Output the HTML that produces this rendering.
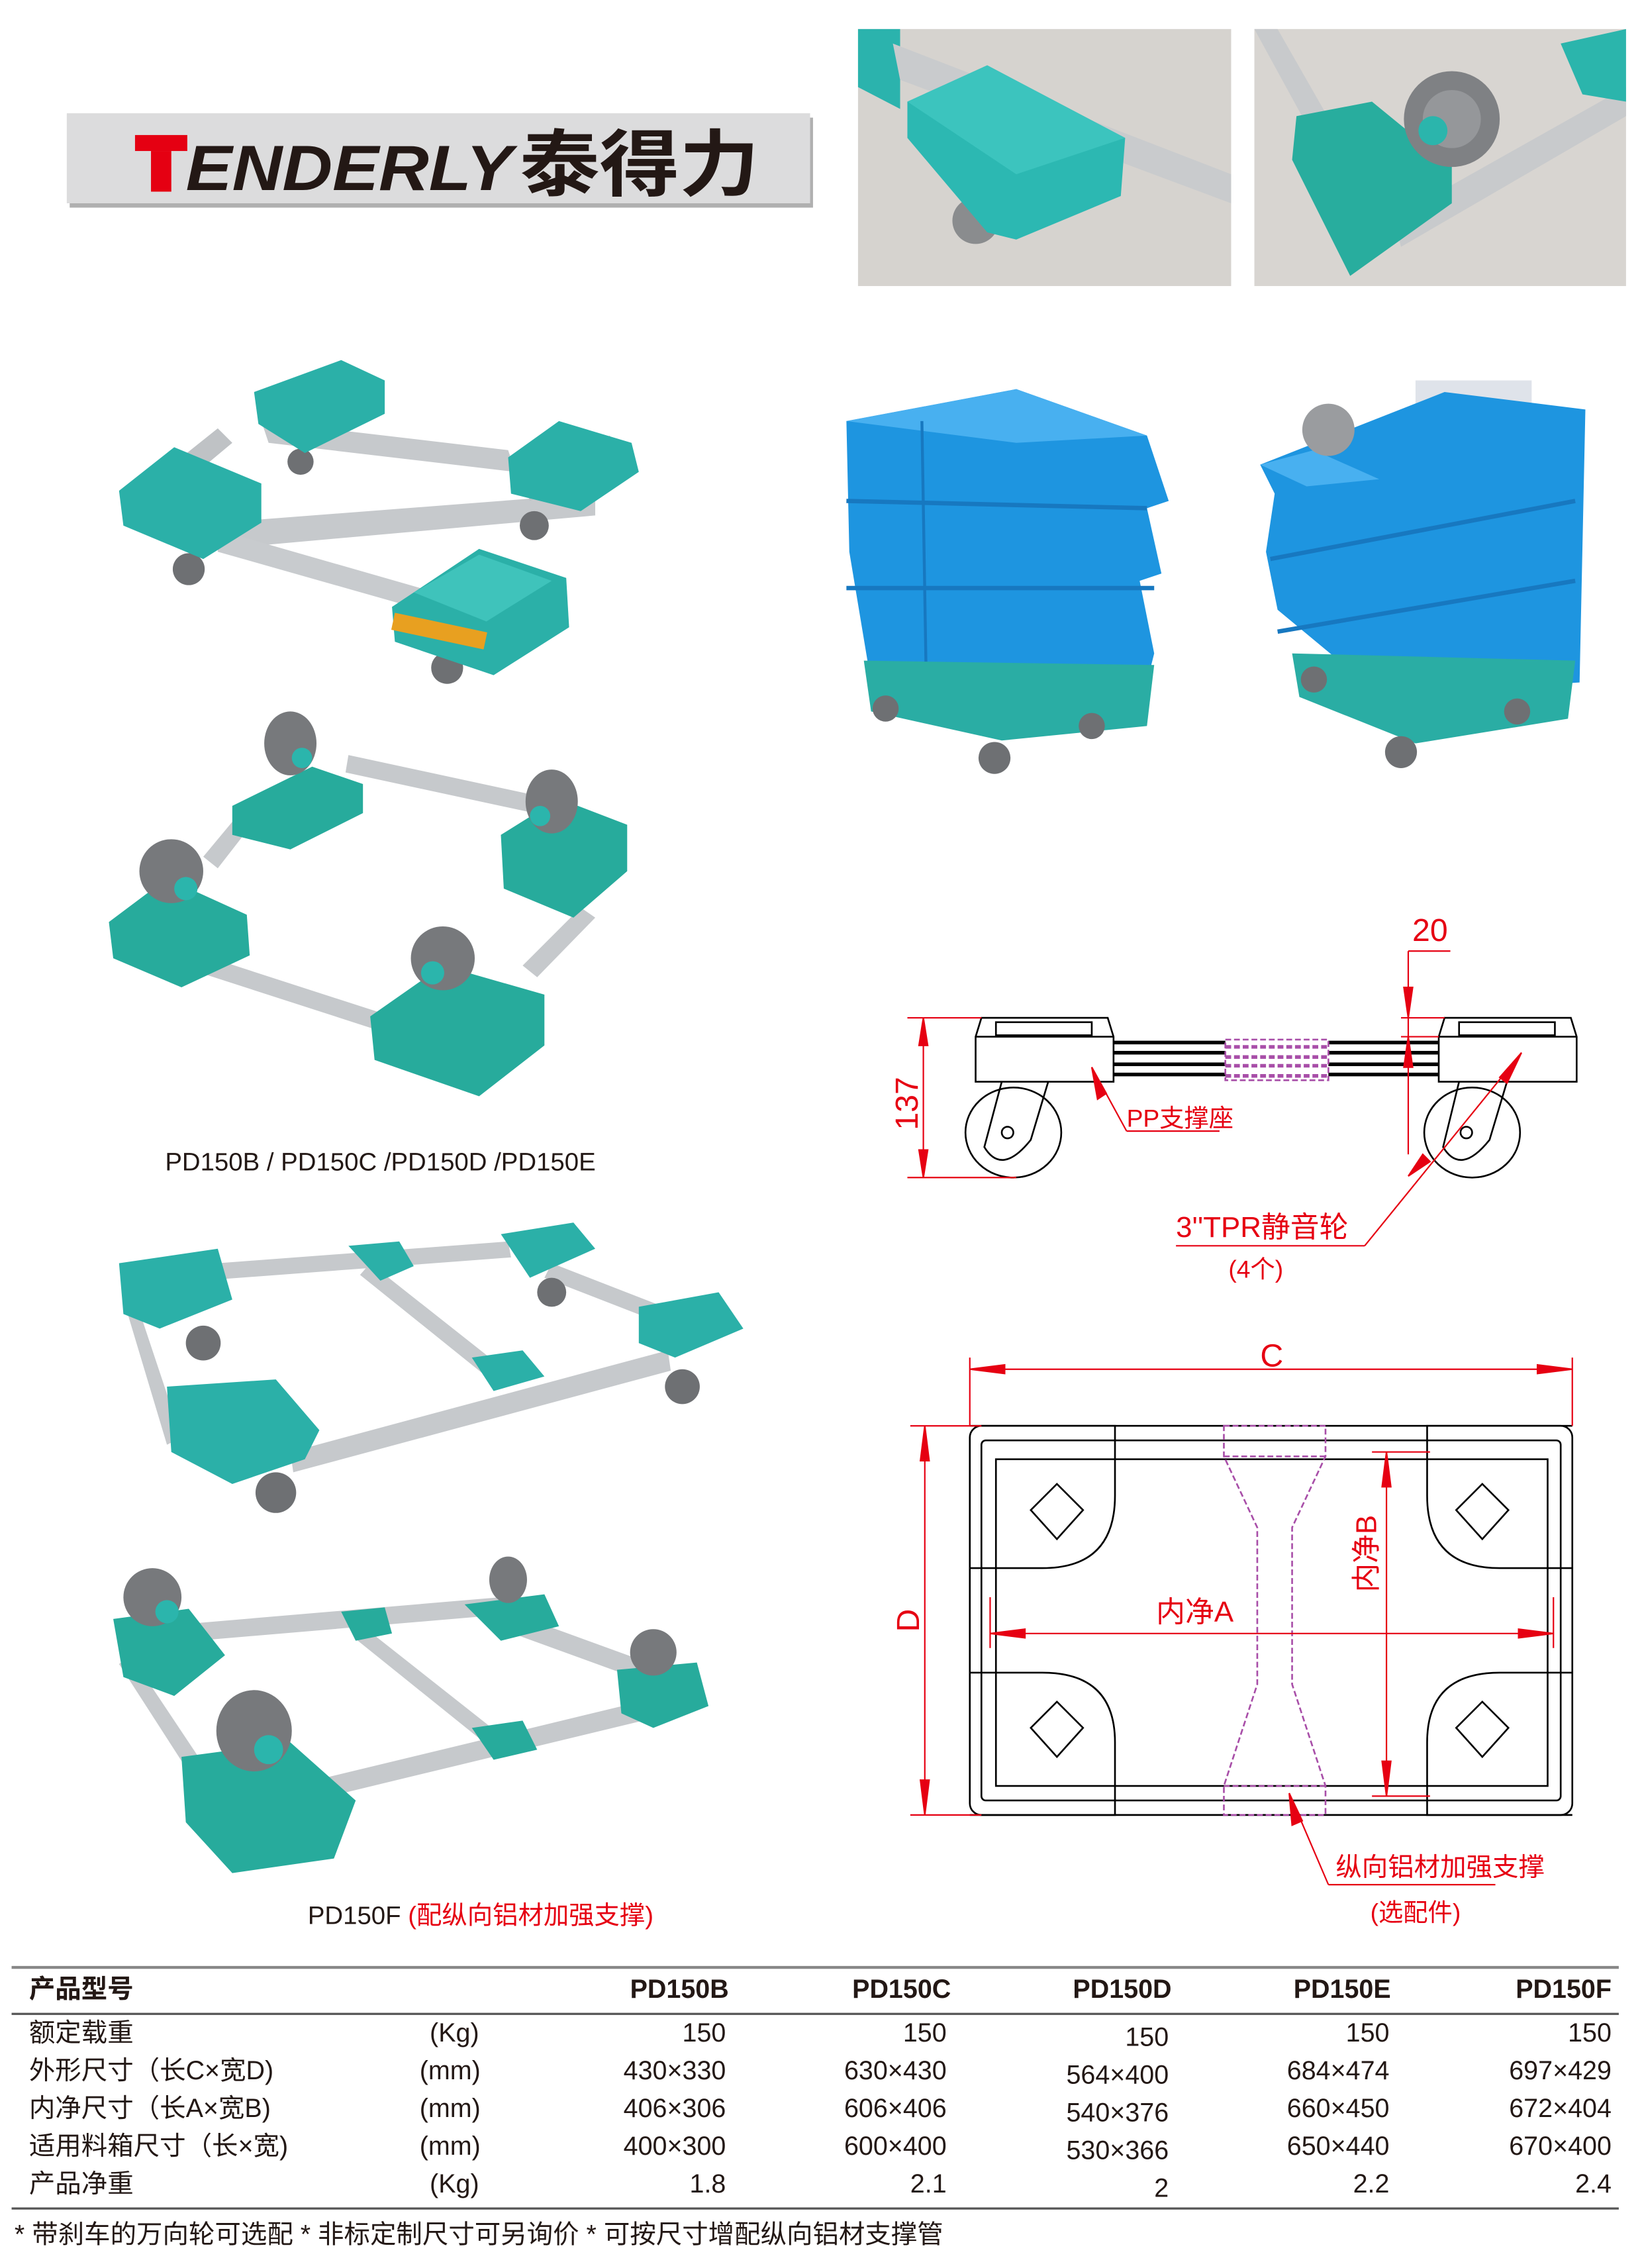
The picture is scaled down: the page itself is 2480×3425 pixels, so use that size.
<!DOCTYPE html>
<html><head><meta charset="utf-8"><style>
html,body{margin:0;padding:0;background:#fff}
svg{display:block}
text{font-family:"Liberation Sans","Noto Sans CJK SC",sans-serif}
</style></head><body>
<svg width="2480" height="3425" viewBox="0 0 1131 1562" preserveAspectRatio="none" xmlns="http://www.w3.org/2000/svg">
<rect width="1131" height="1562" fill="#fff"/>
<!-- logo -->
<rect x="48" y="81" width="512" height="62" fill="#b0b0b0"/>
<rect x="46" y="78" width="512" height="62" fill="#dcdcdd"/>
<rect x="93" y="93" width="36" height="11" fill="#e50012"/>
<rect x="104" y="104" width="14" height="28" fill="#e50012"/>
<text x="128" y="131" font-size="44" font-weight="bold" font-style="italic" fill="#231815" textLength="225" lengthAdjust="spacingAndGlyphs">ENDERLY</text>
<text x="358" y="131" font-size="50" font-weight="bold" fill="#231815" textLength="165" lengthAdjust="spacingAndGlyphs">泰得力</text>

<!-- top photos -->
<rect x="591" y="20" width="257" height="177" fill="#d6d3cf"/>
<path d="M591 20 L591 60 L620 75 L620 20Z" fill="#2bb3ad"/>
<path d="M615 30 L848 120 L848 140 L620 55Z" fill="#c9cbcd"/>
<circle cx="672" cy="152" r="16" fill="#8a8c8e"/>
<path d="M625 70 L680 45 L775 95 L772 135 L700 165 L680 160 L625 95Z" fill="#2cb8b2"/>
<path d="M625 70 L680 45 L775 95 L700 120Z" fill="#3cc4be"/>
<rect x="864" y="20" width="256" height="177" fill="#d8d5d1"/>
<path d="M864 20 L880 20 L920 90 L905 95Z" fill="#c8cacc"/>
<path d="M960 150 L1120 60 L1120 80 L965 170Z" fill="#c8cacc"/>
<path d="M893 80 L945 70 L1000 115 L1000 140 L930 190 L890 110Z" fill="#28ad9e"/>
<circle cx="1000" cy="82" r="33" fill="#7f8184"/>
<circle cx="1000" cy="82" r="20" fill="#95979a"/>
<circle cx="987" cy="90" r="10" fill="#2bb5ac"/>
<path d="M1075 30 L1120 20 L1120 70 L1090 65Z" fill="#2bb5ac"/>

<!-- dolly 1 -->
<g>
<path d="M180 290 L350 310 L355 325 L185 305Z" fill="#c6c9cc"/>
<path d="M150 360 L410 340 L410 355 L152 378Z" fill="#c6c9cc"/>
<path d="M100 335 L150 295 L160 305 L112 345Z" fill="#bfc2c5"/>
<path d="M150 365 L300 408 L298 422 L150 380Z" fill="#c8cbce"/>
<path d="M360 330 L420 300 L425 315 L365 345Z" fill="#bfc2c5"/>
<circle cx="130" cy="392" r="11" fill="#6e7073"/>
<circle cx="207" cy="318" r="9" fill="#6e7073"/>
<circle cx="368" cy="362" r="10" fill="#6e7073"/>
<circle cx="308" cy="460" r="11" fill="#6e7073"/>
<path d="M175 270 L235 248 L265 262 L265 285 L210 312 L178 292Z" fill="#2bb0a8"/>
<path d="M82 338 L120 308 L180 333 L180 360 L140 385 L85 362Z" fill="#2bb0a8"/>
<path d="M350 315 L385 290 L435 305 L440 325 L400 352 L352 340Z" fill="#2bb0a8"/>
<path d="M270 418 L330 378 L390 398 L392 432 L340 465 L272 442Z" fill="#2bb0a8"/>
<path d="M285 408 L330 382 L380 400 L335 428Z" fill="#3fc3bb"/>
<rect x="272" y="422" width="65" height="12" fill="#e8a020" transform="rotate(12 272 422)"/>
</g>
<!-- dolly 2 -->
<g>
<path d="M240 520 L370 548 L368 560 L238 532Z" fill="#c6c9cc"/>
<path d="M140 590 L175 548 L185 553 L150 598Z" fill="#c6c9cc"/>
<path d="M140 658 L270 700 L268 712 L138 670Z" fill="#c6c9cc"/>
<path d="M360 665 L400 625 L410 632 L370 673Z" fill="#c6c9cc"/>
<path d="M160 555 L215 528 L250 540 L250 560 L200 585 L160 575Z" fill="#27ab9c"/>
<path d="M75 635 L115 605 L170 630 L172 658 L125 680 L78 660Z" fill="#27ab9c"/>
<path d="M345 575 L385 550 L432 568 L432 600 L395 632 L347 612Z" fill="#27ab9c"/>
<path d="M255 700 L305 665 L375 685 L375 720 L330 755 L258 730Z" fill="#27ab9c"/>
<ellipse cx="200" cy="512" rx="18" ry="22" fill="#77797c"/>
<ellipse cx="118" cy="600" rx="22" ry="22" fill="#77797c"/>
<ellipse cx="380" cy="552" rx="18" ry="22" fill="#77797c"/>
<ellipse cx="305" cy="660" rx="22" ry="22" fill="#77797c"/>
<circle cx="208" cy="522" r="7" fill="#2bb5ac"/><circle cx="128" cy="612" r="8" fill="#2bb5ac"/>
<circle cx="372" cy="562" r="7" fill="#2bb5ac"/><circle cx="298" cy="670" r="8" fill="#2bb5ac"/>
</g>
<text x="262" y="806" font-size="17.5" fill="#231815" text-anchor="middle">PD150B / PD150C /PD150D /PD150E</text>

<!-- dolly 3 -->
<g>
<path d="M150 870 L350 855 L352 866 L152 881Z" fill="#c6c9cc"/>
<path d="M200 1000 L460 930 L462 944 L202 1014Z" fill="#c6c9cc"/>
<path d="M95 900 L125 990 L115 995 L88 905Z" fill="#c6c9cc"/>
<path d="M255 870 L350 945 L340 952 L248 878Z" fill="#c6c9cc"/>
<path d="M380 870 L470 905 L465 915 L375 880Z" fill="#c6c9cc"/>
<circle cx="140" cy="925" r="12" fill="#6e7073"/><circle cx="380" cy="890" r="10" fill="#6e7073"/>
<circle cx="470" cy="955" r="12" fill="#6e7073"/><circle cx="190" cy="1028" r="14" fill="#6e7073"/>
<path d="M240 858 L275 855 L285 872 L262 882Z" fill="#2bb0a8"/>
<path d="M325 935 L360 930 L375 948 L340 958Z" fill="#2bb0a8"/>
<path d="M82 870 L150 860 L160 895 L110 915 L85 905Z" fill="#2bb0a8"/>
<path d="M345 850 L395 842 L410 860 L365 880Z" fill="#2bb0a8"/>
<path d="M440 900 L495 890 L512 915 L465 935 L440 925Z" fill="#2bb0a8"/>
<path d="M115 955 L190 950 L220 985 L210 1005 L160 1022 L118 1000Z" fill="#2bb0a8"/>
</g>
<!-- dolly 4 -->
<g>
<path d="M110 1120 L345 1100 L347 1112 L112 1132Z" fill="#c6c9cc"/>
<path d="M180 1235 L470 1165 L472 1178 L182 1248Z" fill="#c6c9cc"/>
<path d="M90 1140 L150 1230 L140 1236 L82 1146Z" fill="#c6c9cc"/>
<path d="M250 1120 L345 1195 L336 1202 L244 1128Z" fill="#c6c9cc"/>
<path d="M350 1110 L460 1150 L455 1162 L345 1122Z" fill="#c6c9cc"/>
<path d="M78 1115 L130 1108 L155 1140 L120 1168 L85 1155Z" fill="#27ab9c"/>
<path d="M320 1105 L375 1098 L385 1120 L345 1130Z" fill="#27ab9c"/>
<path d="M425 1150 L480 1145 L488 1175 L450 1190 L428 1180Z" fill="#27ab9c"/>
<path d="M125 1210 L200 1200 L245 1240 L230 1280 L160 1290 L128 1255Z" fill="#27ab9c"/>
<path d="M235 1110 L265 1107 L270 1125 L245 1130Z" fill="#27ab9c"/>
<path d="M325 1190 L360 1185 L370 1205 L340 1212Z" fill="#27ab9c"/>
<ellipse cx="105" cy="1100" rx="20" ry="20" fill="#77797c"/><ellipse cx="350" cy="1088" rx="13" ry="16" fill="#77797c"/>
<ellipse cx="450" cy="1138" rx="16" ry="16" fill="#77797c"/><ellipse cx="175" cy="1192" rx="26" ry="28" fill="#77797c"/>
<circle cx="185" cy="1205" r="10" fill="#2bb5ac"/><circle cx="115" cy="1110" r="8" fill="#2bb5ac"/>
</g>
<text x="212" y="1325" font-size="17.5" fill="#231815">PD150F <tspan fill="#e60012">(配纵向铝材加强支撑)</tspan></text>

<!-- blue bins 1 -->
<g>
<path d="M583 290 L700 268 L790 300 L805 345 L790 350 L800 395 L785 400 L795 450 L790 470 L600 470 L585 380Z" fill="#1e95e0"/>
<path d="M583 290 L700 268 L790 300 L700 305Z" fill="#48b0f0"/>
<path d="M583 345 L790 350 M583 405 L795 405" stroke="#1778c0" stroke-width="3"/>
<path d="M635 290 L638 470" stroke="#1778c0" stroke-width="2"/>
<path d="M595 455 L795 458 L790 500 L690 510 L600 490Z" fill="#2aada4"/>
<circle cx="610" cy="488" r="9" fill="#6e7073"/><circle cx="685" cy="522" r="11" fill="#6e7073"/>
<circle cx="752" cy="500" r="9" fill="#6e7073"/>
</g>
<!-- blue bins 2 -->
<g>
<rect x="975" y="262" width="80" height="40" fill="#dfe3ea"/>
<path d="M868 320 L995 270 L1092 282 L1088 470 L950 478 L880 420 L872 380 L878 340Z" fill="#1e95e0"/>
<path d="M868 320 L905 310 L950 330 L900 335Z" fill="#48b0f0"/>
<path d="M875 385 L1085 345 M880 435 L1085 400" stroke="#1778c0" stroke-width="3"/>
<circle cx="915" cy="296" r="18" fill="#9a9c9f"/>
<path d="M890 450 L1085 455 L1080 495 L975 512 L895 480Z" fill="#2aada4"/>
<circle cx="905" cy="468" r="9" fill="#6e7073"/><circle cx="965" cy="518" r="11" fill="#6e7073"/>
<circle cx="1045" cy="490" r="9" fill="#6e7073"/>
</g>

<!-- side view drawing -->
<g fill="none" stroke="#000" stroke-width="1.2">
<path d="M676 701 L763 701 L767 714 L767 745 L672 745 L672 714Z"/>
<line x1="672" y1="714" x2="767" y2="714"/>
<rect x="686" y="704" width="66" height="9"/>
<path d="M995 701 L1082 701 L1086 714 L1086 745 L991 745 L991 714Z"/>
<line x1="991" y1="714" x2="1086" y2="714"/>
<rect x="1005" y="704" width="66" height="9"/>
<ellipse cx="698" cy="780" rx="33" ry="31"/>
<path d="M690 745 L678 790 Q690 810 710 785 L722 745"/>
<circle cx="694" cy="780" r="4"/>
<ellipse cx="1014" cy="780" rx="33" ry="31"/>
<path d="M1005 745 L994 790 Q1006 810 1026 785 L1038 745"/>
<circle cx="1010" cy="780" r="4"/>
</g>
<g stroke="#000" stroke-width="2.5">
<line x1="767" y1="718" x2="991" y2="718"/><line x1="767" y1="725" x2="991" y2="725"/>
<line x1="767" y1="733" x2="991" y2="733"/><line x1="767" y1="740" x2="991" y2="740"/>
</g>
<rect x="844" y="716" width="71" height="28" fill="#fff" stroke="#a84ea8" stroke-width="1.2" stroke-dasharray="4 2"/>
<g stroke="#a84ea8" stroke-width="2.5" stroke-dasharray="4 2">
<line x1="844" y1="721" x2="915" y2="721"/><line x1="844" y1="728" x2="915" y2="728"/>
<line x1="844" y1="734" x2="915" y2="734"/><line x1="844" y1="741" x2="915" y2="741"/>
</g>
<g stroke="#e60012" stroke-width="1" fill="#e60012">
<line x1="625" y1="701" x2="676" y2="701"/><line x1="625" y1="811" x2="700" y2="811"/>
<line x1="636" y1="701" x2="636" y2="811"/>
<path d="M636 701 L633 720 L639 720Z"/><path d="M636 811 L633 792 L639 792Z"/>
<line x1="970" y1="655" x2="999" y2="655"/><line x1="970" y1="655" x2="970" y2="795"/>
<line x1="965" y1="701" x2="995" y2="701"/><line x1="965" y1="714" x2="991" y2="714"/>
<path d="M970 701 L967 680 L973 680Z"/><path d="M970 714 L967 735 L973 735Z"/>
<line x1="776" y1="779" x2="840" y2="779"/><line x1="776" y1="779" x2="752" y2="735"/>
<path d="M752 735 L756 757 L762 753Z"/>
<line x1="810" y1="858" x2="940" y2="858"/><line x1="940" y1="858" x2="1048" y2="725"/>
<path d="M1048 725 L1033 742 L1038 746Z"/><path d="M970 810 L980 795 L985 800Z"/>
</g>
<g fill="#e60012" font-size="20">
<text x="985" y="648" text-anchor="middle" font-size="22">20</text>
<text transform="translate(632 760) rotate(-90)" text-anchor="middle" font-size="22">137</text>
<text x="776" y="776" font-size="17">PP支撑座</text>
<text x="810" y="852" font-size="20">3''TPR静音轮</text>
<text x="865" y="880" font-size="17" text-anchor="middle">(4个)</text>
</g>

<!-- top view drawing -->
<g fill="none" stroke="#000" stroke-width="1.2">
<rect x="668" y="982" width="415" height="268" rx="8"/>
<rect x="676" y="992" width="399" height="248" rx="3"/>
<rect x="686" y="1005" width="380" height="225"/>
<path d="M668 982 L768 982 L768 1030 Q768 1080 718 1080 L668 1080"/>
<path d="M1083 982 L983 982 L983 1030 Q983 1080 1033 1080 L1083 1080"/>
<path d="M668 1250 L768 1250 L768 1200 Q768 1152 718 1152 L668 1152"/>
<path d="M1083 1250 L983 1250 L983 1200 Q983 1152 1033 1152 L1083 1152"/>
<path d="M710 1040 L728 1022 L746 1040 L728 1060Z M1003 1040 L1021 1022 L1039 1040 L1021 1060Z M710 1190 L728 1172 L746 1190 L728 1210Z M1003 1190 L1021 1172 L1039 1190 L1021 1210Z"/>
</g>
<g fill="none" stroke="#a84ea8" stroke-width="1.2" stroke-dasharray="4 2">
<path d="M843 982 L913 982 L913 1003 L890 1052 L890 1160 L913 1230 L913 1250 L843 1250 L843 1230 L866 1160 L866 1052 L843 1003Z"/>
<line x1="843" y1="1003" x2="913" y2="1003"/><line x1="843" y1="1230" x2="913" y2="1230"/>
</g>
<g stroke="#e60012" stroke-width="1" fill="#e60012">
<line x1="668" y1="935" x2="668" y2="982"/><line x1="1083" y1="935" x2="1083" y2="982"/>
<line x1="668" y1="943" x2="1083" y2="943"/>
<path d="M668 943 L692 940 L692 946Z"/><path d="M1083 943 L1059 940 L1059 946Z"/>
<line x1="627" y1="982" x2="676" y2="982"/><line x1="627" y1="1250" x2="676" y2="1250"/>
<line x1="637" y1="982" x2="637" y2="1250"/>
<path d="M637 982 L634 1006 L640 1006Z"/><path d="M637 1250 L634 1226 L640 1226Z"/>
<line x1="682" y1="1125" x2="1070" y2="1125"/>
<path d="M682 1125 L706 1122 L706 1128Z"/><path d="M1070 1125 L1046 1122 L1046 1128Z"/>
<line x1="682" y1="1100" x2="682" y2="1135"/><line x1="1070" y1="1100" x2="1070" y2="1135"/>
<line x1="945" y1="1000" x2="985" y2="1000"/><line x1="945" y1="1237" x2="985" y2="1237"/>
<line x1="955" y1="1000" x2="955" y2="1237"/>
<path d="M955 1000 L952 1024 L958 1024Z"/><path d="M955 1237 L952 1213 L958 1213Z"/>
<line x1="915" y1="1298" x2="1030" y2="1298"/><line x1="915" y1="1298" x2="888" y2="1235"/>
<path d="M888 1235 L890 1257 L897 1254Z"/>
</g>
<g fill="#e60012">
<text x="876" y="941" font-size="22" text-anchor="middle">C</text>
<text transform="translate(633 1116) rotate(-90)" font-size="22" text-anchor="middle">D</text>
<text x="823" y="1117" font-size="20" text-anchor="middle">内净A</text>
<text transform="translate(948 1070) rotate(-90)" font-size="20" text-anchor="middle">内净B</text>
<text x="920" y="1292" font-size="18">纵向铝材加强支撑</text>
<text x="975" y="1323" font-size="17" text-anchor="middle">(选配件)</text>
</g>

<!-- table -->
<line x1="8" y1="1355" x2="1115" y2="1355" stroke="#888" stroke-width="2"/>
<line x1="8" y1="1387" x2="1115" y2="1387" stroke="#555" stroke-width="1.5"/>
<line x1="8" y1="1521" x2="1115" y2="1521" stroke="#555" stroke-width="1.5"/>
<g font-size="18" fill="#231815">
<text x="20" y="1376" font-weight="bold">产品型号</text>
<g font-weight="bold" text-anchor="end">
<text x="502" y="1376">PD150B</text><text x="655" y="1376">PD150C</text><text x="807" y="1376">PD150D</text><text x="958" y="1376">PD150E</text><text x="1110" y="1376">PD150F</text>
</g>
<text x="20" y="1406">额定载重</text><text x="20" y="1432">外形尺寸（长C×宽D)</text><text x="20" y="1458">内净尺寸（长A×宽B)</text><text x="20" y="1484">适用料箱尺寸（长×宽)</text><text x="20" y="1510">产品净重</text>
<g text-anchor="middle"><text x="313" y="1406">(Kg)</text><text x="310" y="1432">(mm)</text><text x="310" y="1458">(mm)</text><text x="310" y="1484">(mm)</text><text x="313" y="1510">(Kg)</text></g>
<g text-anchor="end">
<text x="500" y="1406">150</text><text x="500" y="1432">430×330</text><text x="500" y="1458">406×306</text><text x="500" y="1484">400×300</text><text x="500" y="1510">1.8</text>
<text x="652" y="1406">150</text><text x="652" y="1432">630×430</text><text x="652" y="1458">606×406</text><text x="652" y="1484">600×400</text><text x="652" y="1510">2.1</text>
<text x="805" y="1409">150</text><text x="805" y="1435">564×400</text><text x="805" y="1461">540×376</text><text x="805" y="1487">530×366</text><text x="805" y="1513">2</text>
<text x="957" y="1406">150</text><text x="957" y="1432">684×474</text><text x="957" y="1458">660×450</text><text x="957" y="1484">650×440</text><text x="957" y="1510">2.2</text>
<text x="1110" y="1406">150</text><text x="1110" y="1432">697×429</text><text x="1110" y="1458">672×404</text><text x="1110" y="1484">670×400</text><text x="1110" y="1510">2.4</text>
</g>
<text x="10" y="1545">* 带刹车的万向轮可选配  * 非标定制尺寸可另询价  * 可按尺寸增配纵向铝材支撑管</text>
</g>
</svg>
</body></html>
